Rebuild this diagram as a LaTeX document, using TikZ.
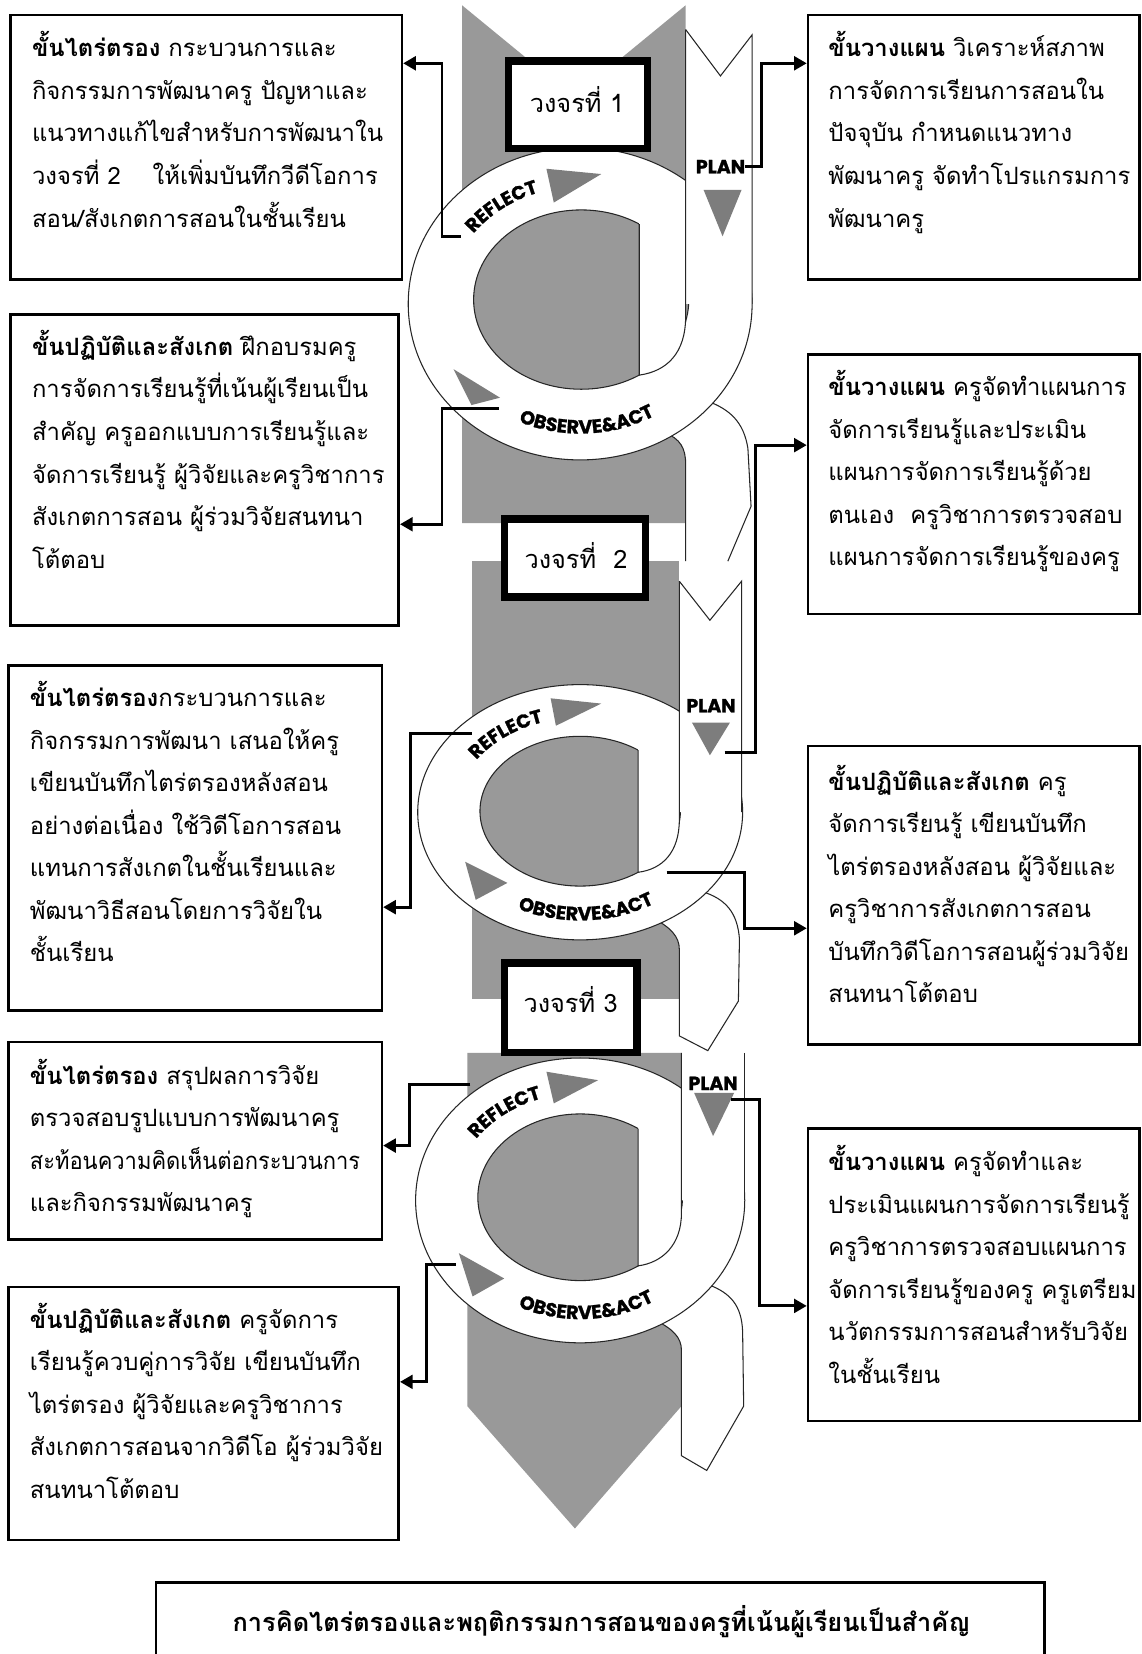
\documentclass[tikz,border=0pt]{standalone}
\usepackage{fontspec}
\usepackage{graphicx}
\usetikzlibrary{arrows.meta,decorations.text,fit,calc}
\newfontfamily\thai[Script=Thai]{Loma}
\newfontfamily\lblfont{Poppins}[BoldFeatures={FakeBold=1.3}]
\definecolor{bandgray}{RGB}{153,153,153}
\definecolor{trigray}{RGB}{125,125,125}
\newcommand\thtext{\thai\fontsize{11.3}{20.15}\selectfont}
\newcommand\lblstyle{\lblfont\bfseries\fontsize{9}{11}\selectfont}
\newcommand\tb[1]{\begin{minipage}[t]{320pt}\thtext #1\end{minipage}}
\begin{document}
\begin{tikzpicture}[x=0.5pt,y=-0.5pt,
  tbox/.style={draw,line width=1.2pt,inner sep=0pt},
  cbox/.style={draw,line width=3.5pt,fill=white,inner sep=0pt},
  ttext/.style={anchor=base west,inner sep=0pt},
  ctext/.style={font=\thai\fontsize{12}{14}\selectfont,inner sep=0pt},
  lbl/.style={font=\lblstyle,inner sep=0pt},
  outl/.style={line width=0.5pt,draw=black!85},
  conn/.style={line width=1.4pt,-{Triangle[length=6pt,width=6.5pt]}},
  ribbon/.style={fill=white}]
\useasboundingbox (0,0) rectangle (1082,1568);
\fill[white] (0,0) rectangle (1082,1568);

% ---------- gray bands ----------
\fill[bandgray] (438,5) -- (544,92) -- (650,5) -- (650,496) -- (438,496) -- cycle;
\fill[bandgray] (447,532) rectangle (644,947);
\fill[bandgray] (443,998) -- (646,998) -- (646,1333) -- (545,1449) -- (443,1333) -- cycle;

% ---------- cycle 1 ----------
\fill[ribbon] (660,360) -- (670,380) .. controls (692,388) and (705,400) .. (709,425) -- (712,480) -- (690,532) -- (650,532) -- (650,440) .. controls (650,425) and (645,416) .. (630,410) -- cycle;
\draw[outl] (670,380) .. controls (692,388) and (705,400) .. (709,425) -- (712,480) -- (690,532);
\draw[outl] (650,532) -- (650,440) .. controls (650,425) and (645,416) .. (630,410);
\filldraw[fill=white,outl] (550,288) ellipse [x radius=163, y radius=148];
\filldraw[fill=bandgray,outl] (551,284) ellipse [x radius=102, y radius=85];
\fill[white] (650,28) -- (683,72) -- (713,33) -- (713,288) -- (650,288) -- (650,300) .. controls (650,335) and (632,352) .. (606,355.6) -- (606,190) -- (650,190) -- cycle;
\draw[outl] (650,28) -- (683,72) -- (713,33) -- (713,288);
\draw[outl] (650,28) -- (650,300) .. controls (650,335) and (632,352) .. (606,355.6) -- (606,212.4);
\fill[trigray] (518,160) -- (570,165) -- (525,192) -- cycle;
\fill[trigray] (667,180) -- (703,180) -- (685,224) -- cycle;
\fill[trigray] (430,350) -- (474,377) -- (447,384) -- cycle;
\path[decorate,decoration={text along path,text={|\lblstyle|REFLECT},text align=center}]
  ($(550,287)+(193:126 and 110)$) arc [start angle=193,end angle=273,x radius=126,y radius=110];
\path[decorate,decoration={text along path,text={|\lblstyle|OBSERVE{\&}ACT},text align=center}]
  ($(550,287)+(140:140 and 124)$) arc [start angle=140,end angle=34,x radius=140,y radius=124];
\node[lbl] (plan1) at (683,158) {PLAN};

% ---------- cycle 2 ----------
\fill[ribbon] (655,830) -- (665,845) .. controls (688,852) and (699,865) .. (701,890) -- (700,949) -- (671,996) -- (644,982) -- (644,900) .. controls (644,888) and (636,879) .. (618,870) -- cycle;
\draw[outl] (665,845) .. controls (688,852) and (699,865) .. (701,890) -- (700,949) -- (671,996) -- (644,982) -- (644,900) .. controls (644,888) and (636,879) .. (618,870);
\filldraw[fill=white,outl] (550,770) ellipse [x radius=154, y radius=121];
\filldraw[fill=bandgray,outl] (550,769) ellipse [x radius=95, y radius=71];
\fill[white] (644,551) -- (673,588) -- (703,551) -- (703,770) -- (644,770) -- (644,777) .. controls (644,808) and (628,824) .. (605,826.9) -- (605,690) -- (644,690) -- cycle;
\draw[outl] (644,551) -- (673,588) -- (703,551) -- (703,770);
\draw[outl] (644,551) -- (644,777) .. controls (644,808) and (628,824) .. (605,826.9) -- (605,711.1);
\fill[trigray] (522,662) -- (570,667) -- (527,688) -- cycle;
\fill[trigray] (656,685) -- (692,685) -- (673,716) -- cycle;
\fill[trigray] (441,817) -- (481,837) -- (451,853) -- cycle;
\path[decorate,decoration={text along path,text={|\lblstyle|REFLECT},text align=center}]
  ($(550,770)+(191:118 and 89.5)$) arc [start angle=191,end angle=271,x radius=118,y radius=89.5];
\path[decorate,decoration={text along path,text={|\lblstyle|OBSERVE{\&}ACT},text align=center}]
  ($(550,770)+(140:131 and 102.5)$) arc [start angle=140,end angle=34,x radius=131,y radius=102.5];
\node[lbl] (plan2) at (674,669) {PLAN};

% ---------- cycle 3 ----------
\fill[ribbon] (655,1200) -- (672,1218) .. controls (693,1226) and (703,1238) .. (704,1262) -- (705,1333) -- (670,1394) -- (646,1380) -- (646,1280) .. controls (646,1268) and (638,1260) .. (622,1252) -- cycle;
\draw[outl] (672,1218) .. controls (693,1226) and (703,1238) .. (704,1262) -- (705,1333) -- (670,1394) -- (646,1380) -- (646,1280) .. controls (646,1268) and (638,1260) .. (622,1252);
\filldraw[fill=white,outl] (550,1138) ellipse [x radius=156, y radius=135];
\filldraw[fill=bandgray,outl] (550,1135) ellipse [x radius=97, y radius=79];
\fill[white] (646,998) -- (706,998) -- (706,1138) -- (646,1138) -- (646,1150) .. controls (646,1180) and (628,1197) .. (605,1200) -- (605,1040) -- (646,1040) -- cycle;
\draw[outl] (706,998) -- (706,1138);
\draw[outl] (646,998) -- (646,1150) .. controls (646,1180) and (628,1197) .. (605,1200) -- (605,1070);
\fill[trigray] (518,1016) -- (567,1024) -- (525,1046) -- cycle;
\fill[trigray] (658,1036) -- (696,1036) -- (676,1077) -- cycle;
\fill[trigray] (435,1188) -- (478,1212) -- (448,1229) -- cycle;
\path[decorate,decoration={text along path,text={|\lblstyle|REFLECT},text align=center}]
  ($(550,1137)+(192:120 and 100.5)$) arc [start angle=192,end angle=272,x radius=120,y radius=100.5];
\path[decorate,decoration={text along path,text={|\lblstyle|OBSERVE{\&}ACT},text align=center}]
  ($(550,1137)+(140:133 and 113.5)$) arc [start angle=140,end angle=34,x radius=133,y radius=113.5];
\node[lbl] (plan3) at (676,1027) {PLAN};

% ---------- cycle label boxes ----------
\node[cbox,minimum width=66pt,minimum height=41.5pt] (cyc1) at (548,99.5) {};
\node[ctext] (cyc1t) at (547,94) {วงจรที่ 1};
\node[cbox,minimum width=67pt,minimum height=37pt] (cyc2) at (545,529) {};
\node[ctext] (cyc2t) at (546,527) {วงจรที่ \ 2};
\node[cbox,minimum width=63pt,minimum height=42.5pt] (cyc3) at (541,955.5) {};
\node[ctext] (cyc3t) at (541,948) {วงจรที่ 3};

% ---------- text boxes ----------
\node[tbox,fit={(10,14) (381,265)}] (bL1) {};
\node[tbox,fit={(10,298) (378,593)}] (bL2) {};
\node[tbox,fit={(8,631) (362,958)}] (bL3) {};
\node[tbox,fit={(8,988) (362,1175)}] (bL4) {};
\node[tbox,fit={(8,1220) (378,1460)}] (bL5) {};
\node[tbox,fit={(766,14) (1080,265)}] (bR1) {};
\node[tbox,fit={(766,336) (1080,582)}] (bR2) {};
\node[tbox,fit={(766,707) (1080,990)}] (bR3) {};
\node[tbox,fit={(766,1070) (1080,1347)}] (bR4) {};
\node[tbox,fit={(148,1500) (990,1620)}] (bT) {};

\node[ttext] (tL1) at (30,54) {\tb{\textbf{ขั้นไตร่ตรอง} กระบวนการและ\\กิจกรรมการพัฒนาครู ปัญหาและ\\แนวทางแก้ไขสำหรับการพัฒนาใน\\วงจรที่ 2 \quad ให้เพิ่มบันทึกวีดีโอการ\\สอน/สังเกตการสอนในชั้นเรียน}};
\node[ttext] (tL2) at (30,337) {\tb{\textbf{ขั้นปฏิบัติและสังเกต} ฝึกอบรมครู\\การจัดการเรียนรู้ที่เน้นผู้เรียนเป็น\\สำคัญ ครูออกแบบการเรียนรู้และ\\จัดการเรียนรู้ ผู้วิจัยและครูวิชาการ\\สังเกตการสอน ผู้ร่วมวิจัยสนทนา\\โต้ตอบ}};
\node[ttext] (tL3) at (28,670) {\tb{\textbf{ขั้นไตร่ตรอง}กระบวนการและ\\กิจกรรมการพัฒนา เสนอให้ครู\\เขียนบันทึกไตร่ตรองหลังสอน\\อย่างต่อเนื่อง ใช้วิดีโอการสอน\\แทนการสังเกตในชั้นเรียนและ\\พัฒนาวิธีสอนโดยการวิจัยใน\\ชั้นเรียน}};
\node[ttext] (tL4) at (28,1028) {\tb{\textbf{ขั้นไตร่ตรอง} สรุปผลการวิจัย\\ตรวจสอบรูปแบบการพัฒนาครู\\\scalebox{0.92}[1]{สะท้อนความคิดเห็นต่อกระบวนการ}\\และกิจกรรมพัฒนาครู}};
\node[ttext] (tL5) at (28,1259) {\tb{\textbf{ขั้นปฏิบัติและสังเกต} ครูจัดการ\\เรียนรู้ควบคู่การวิจัย เขียนบันทึก\\ไตร่ตรอง ผู้วิจัยและครูวิชาการ\\สังเกตการสอนจากวิดีโอ ผู้ร่วมวิจัย\\สนทนาโต้ตอบ}};
\node[ttext] (tR1) at (785,54) {\tb{\textbf{ขั้นวางแผน} วิเคราะห์สภาพ\\การจัดการเรียนการสอนใน\\ปัจจุบัน กำหนดแนวทาง\\พัฒนาครู จัดทำโปรแกรมการ\\พัฒนาครู}};
\node[ttext] (tR2) at (785,375) {\tb{\textbf{ขั้นวางแผน} ครูจัดทำแผนการ\\จัดการเรียนรู้และประเมิน\\แผนการจัดการเรียนรู้ด้วย\\ตนเอง \ ครูวิชาการตรวจสอบ\\แผนการจัดการเรียนรู้ของครู}};
\node[ttext] (tR3) at (785,749) {\tb{\textbf{ขั้นปฏิบัติและสังเกต} ครู\\จัดการเรียนรู้ เขียนบันทึก\\ไตร่ตรองหลังสอน ผู้วิจัยและ\\ครูวิชาการสังเกตการสอน\\บันทึกวิดีโอการสอนผู้ร่วมวิจัย\\สนทนาโต้ตอบ}};
\node[ttext] (tR4) at (785,1110) {\tb{\textbf{ขั้นวางแผน} ครูจัดทำและ\\ประเมินแผนการจัดการเรียนรู้\\ครูวิชาการตรวจสอบแผนการ\\จัดการเรียนรู้ของครู ครูเตรียม\\นวัตกรรมการสอนสำหรับวิจัย\\ในชั้นเรียน}};
\node[font=\thai\bfseries\fontsize{12}{14}\selectfont,inner sep=0pt] (tT) at (570,1537) {การคิดไตร่ตรองและพฤติกรรมการสอนของครูที่เน้นผู้เรียนเป็นสำคัญ};

% ---------- connectors ----------
\coordinate (s1) at (437,224);  \coordinate (k1) at (419,60);
\coordinate (s2) at (473,387);  \coordinate (k2) at (419,497);
\coordinate (k3) at (722,60);
\coordinate (s4) at (687,713);  \coordinate (k4) at (716,422);
\coordinate (s5) at (632,827);  \coordinate (k5) at (706,880);
\coordinate (s6) at (447,695);  \coordinate (k6) at (389,860);
\coordinate (s7) at (446,1028); \coordinate (k7) at (388,1086);
\coordinate (s8) at (432,1199); \coordinate (k8) at (404,1310);
\coordinate (s9) at (693,1042); \coordinate (k9) at (720,1238);
\draw[conn] (s1) -| (k1) -- (k1 -| bL1.east);
\draw[conn] (s2) -| (k2) -- (k2 -| bL2.east);
\draw[conn] (plan1.east) -| (k3) -- (k3 -| bR1.west);
\draw[conn] (s4) -| (k4) -- (k4 -| bR2.west);
\draw[conn] (s5) -| (k5) -- (k5 -| bR3.west);
\draw[conn] (s6) -| (k6) -- (k6 -| bL3.east);
\draw[conn] (s7) -| (k7) -- (k7 -| bL4.east);
\draw[conn] (s8) -| (k8) -- (k8 -| bL5.east);
\draw[conn] (s9) -| (k9) -- (k9 -| bR4.west);
\end{tikzpicture}
\end{document}
